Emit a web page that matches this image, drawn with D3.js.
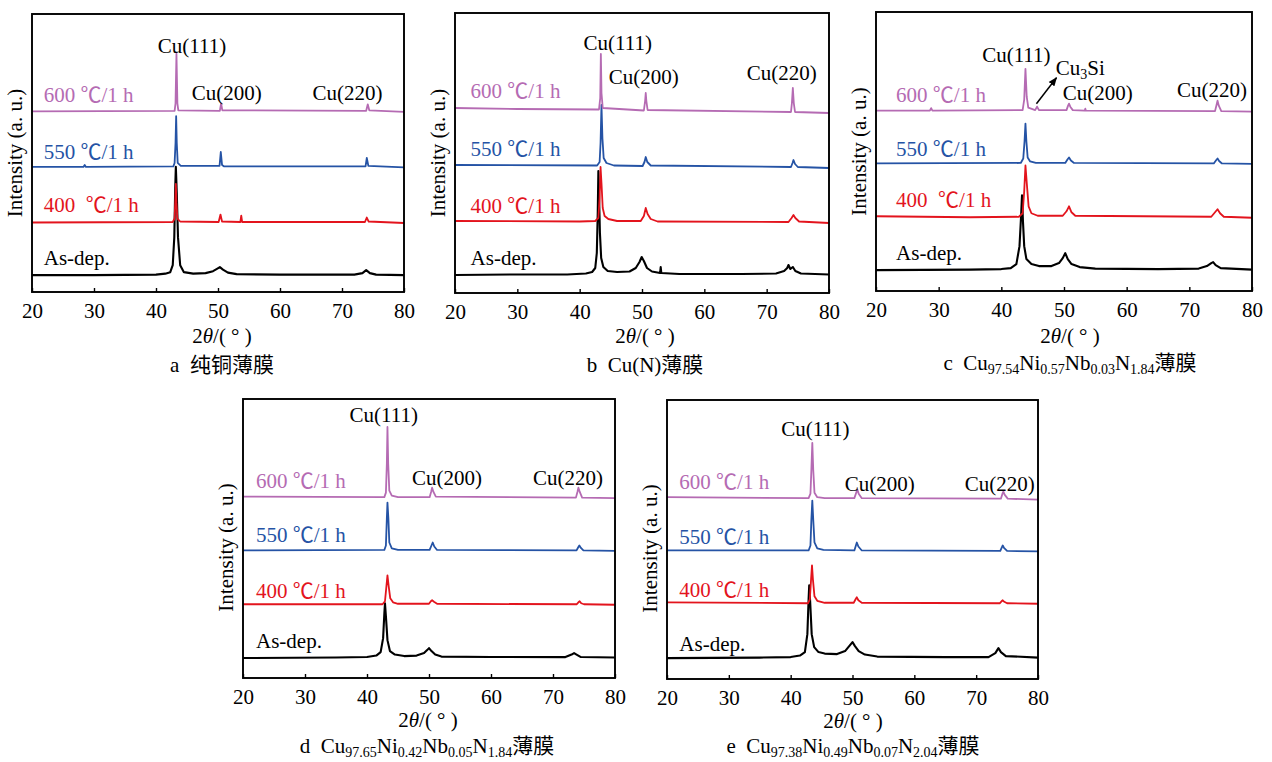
<!DOCTYPE html>
<html>
<head>
<meta charset="utf-8">
<title>XRD - Cu films</title>
<script src="https://d3js.org/d3.v7.min.js"></script>
<style>
body { margin: 0; background: #fff; }
text { font-family: "Liberation Serif", "Noto Sans CJK SC", "DejaVu Serif", serif; fill: #000; }
</style>
</head>
<body>
<div id="chart"></div>
<script>
// x ticks (2theta, deg)
var xTicks = [20, 30, 40, 50, 60, 70, 80];
var peakNames = ["Cu(111)", "Cu(200)", "Cu(220)"];
var colors = ["#000000", "#e3141d", "#2553a5", "#b56bb3"];

// curves, [2theta, intensity a.u. incl. offset], order: As-dep, 400, 550, 600
var aAsDep = [[20,17],[30,17],[40,17.5],[41.5,18.5],[42.3,20],[42.7,27],[42.95,55],[43.1,105],[43.2,126],[43.35,100],[43.55,55],[43.9,27],[44.5,20],[46,18.5],[48,19],[49.2,21],[49.9,23.5],[50.3,25],[50.8,22.5],[51.6,19.5],[53,18],[60,17.5],[72,17.5],[73.3,19],[73.9,22],[74.5,19],[75.5,17.5],[80,17]];
var a400 = [[20,70],[42.7,70.5],[43.0,74],[43.1,90],[43.2,109],[43.3,90],[43.45,74],[43.9,71],[50.1,70.5],[50.4,78],[50.65,71],[53.6,70.5],[53.75,77],[53.9,70.5],[73.7,70.5],[74.0,75],[74.3,71],[80,69.5]];
var a550 = [[20,126],[28.3,126],[28.5,128],[28.7,126],[42.8,126.5],[43.0,130],[43.15,150],[43.25,177],[43.35,150],[43.5,130],[44,127],[50.25,127],[50.45,141],[50.65,128],[51,126.5],[73.8,126.5],[74.0,135],[74.25,127],[80,125.5]];
var a600 = [[20,182],[43.0,182.5],[43.15,190],[43.3,240],[43.45,190],[43.6,183],[50.3,182.5],[50.5,190],[50.7,183],[73.9,182.5],[74.15,189],[74.4,183],[80,181.5]];

var bAsDep = [[20,18],[30,18.5],[38,18.5],[41,19.5],[42,21],[42.5,25],[42.75,40],[42.9,80],[43.0,122],[43.1,100],[43.25,60],[43.45,35],[43.8,26],[44.5,22],[46,21],[48,21.5],[49,25],[49.6,31],[49.95,36],[50.3,32],[50.8,25],[51.6,21.5],[52.9,20],[53.0,26],[53.1,20],[56,19],[66,19],[71.5,19.5],[72.8,22],[73.3,25],[73.5,28],[73.8,24],[74.2,26],[74.6,22],[75.5,19.5],[80,18.5]];
var b400 = [[20,72],[40,71.5],[42.5,72],[43.0,75],[43.2,95],[43.35,126],[43.5,110],[43.7,85],[44,77],[44.6,74],[46,72],[49.8,72],[50.3,77],[50.6,85],[50.9,79],[51.4,74],[52.5,71.5],[73.5,71],[74.0,75],[74.3,78],[74.6,75],[75.2,71.5],[80,70]];
var b550 = [[20,128],[42.8,127.5],[43.2,131],[43.35,150],[43.5,188],[43.65,155],[43.85,135],[44.3,130],[45.5,127.5],[50.1,127],[50.4,131],[50.6,136],[50.85,131],[51.4,127.5],[73.9,126],[74.15,130],[74.3,133],[74.55,129],[75,126],[80,125]];
var b600 = [[20,185],[30,184],[43.1,183.5],[43.3,195],[43.4,239],[43.5,200],[43.7,185],[50.3,182.5],[50.5,192],[50.6,200],[50.7,192],[50.9,183],[73.9,181],[74.05,190],[74.2,205],[74.35,190],[74.55,181],[80,180]];

var cAsDep = [[20,21],[35,21.5],[40,22],[41.5,23],[42.4,27],[42.9,45],[43.15,75],[43.3,96],[43.45,70],[43.65,45],[44,32],[44.8,27],[46,25],[48,25],[49.2,28],[49.8,33],[50.2,38],[50.6,32],[51.2,27],[52.5,24],[55,22.5],[65,22],[71.5,22.5],[72.8,25],[73.5,28],[73.8,29],[74.2,26],[75,23],[80,21.5]];
var c400 = [[20,75],[35,74],[42.8,74.5],[43.4,78],[43.65,100],[43.85,126],[44.1,105],[44.35,85],[44.8,78],[45.8,75.5],[49.8,75.5],[50.4,80],[50.8,85],[51.2,79],[51.8,75.5],[73.5,74.5],[74.1,79],[74.5,82],[74.9,78],[75.5,74.5],[80,73.5]];
var c550 = [[20,128],[43.1,128.5],[43.5,133],[43.7,150],[43.85,168],[44.0,150],[44.2,134],[44.6,130],[45.5,128.5],[50.2,128.5],[50.55,132],[50.8,134],[51.1,131],[51.6,128.5],[73.9,128],[74.3,131.5],[74.5,133],[74.75,130.5],[75.2,128],[80,127.5]];
var c600 = [[20,181],[28.6,181],[28.8,183.5],[29.0,181],[43.4,181.5],[43.65,192],[43.85,223],[44.05,195],[44.3,184],[45.4,181.5],[45.7,185],[46.0,181.5],[50.4,181.5],[50.65,186],[50.8,188],[51.0,185],[51.4,181.5],[53.3,181],[53.4,183],[53.5,181],[74.1,180.5],[74.35,187],[74.5,191],[74.7,186],[75.1,180.5],[80,180]];

var dAsDep = [[20,20],[35,20.5],[40,21],[41.5,22.5],[42.2,26],[42.6,40],[42.8,65],[42.9,75],[43.05,62],[43.3,38],[43.7,27],[44.5,23.5],[46,22],[48,22.5],[49.2,25],[49.7,28],[50.0,30],[50.4,27],[51,23.5],[52,21.5],[60,21],[72,21],[73,23.5],[73.4,25],[73.8,23.5],[74.5,21],[80,20.5]];
var d400 = [[20,74],[42.5,74],[42.9,77],[43.1,90],[43.3,103],[43.5,92],[43.75,80],[44.2,76],[45,74.5],[50.0,74.5],[50.3,77],[50.5,78],[50.8,76.5],[51.3,74.5],[73.8,74],[74.1,76],[74.3,77],[74.55,75],[75,74],[80,73.5]];
var d550 = [[20,128],[42.8,128.5],[43.05,133],[43.2,160],[43.3,176],[43.45,160],[43.6,136],[44,130],[45,128.5],[50.1,128.5],[50.4,133],[50.6,136],[50.85,132],[51.3,128.5],[73.8,128],[74.05,131],[74.25,133],[74.5,130.5],[74.9,128],[80,127.5]];
var d600 = [[20,182],[42.8,181.5],[43.05,186],[43.2,215],[43.3,252],[43.42,215],[43.6,188],[44,183],[45,181.5],[50.1,181.5],[50.35,187],[50.5,191],[50.7,187],[51.1,182],[73.7,181],[73.95,187],[74.1,191],[74.3,187],[74.7,181],[80,180.5]];

var eAsDep = [[20,21],[35,21.5],[40,22],[41.5,23.5],[42.3,27],[42.7,45],[42.9,80],[43.0,94],[43.15,78],[43.4,45],[43.8,32],[44.5,27],[45.5,25.5],[47.5,25],[48.8,28],[49.6,34],[50.0,37],[50.4,33],[51,28],[52,24.5],[54,22.5],[65,22],[72,22],[73.1,26],[73.6,31],[74.0,27],[74.8,23],[80,21.5]];
var e400 = [[20,77],[42.8,76],[43.1,80],[43.3,100],[43.45,114],[43.6,100],[43.85,83],[44.3,78.5],[45.5,76.5],[50.2,76.5],[50.5,80],[50.7,82],[50.95,79],[51.5,76.5],[73.8,76],[74.1,78],[74.3,79],[74.55,77.5],[75,76],[80,75.5]];
var e550 = [[20,129],[42.9,129],[43.2,134],[43.35,160],[43.5,179],[43.65,160],[43.85,137],[44.3,131],[45.3,129.5],[50.3,129],[50.55,134],[50.7,137],[50.95,133],[51.5,129],[73.9,128.5],[74.15,132],[74.3,134],[74.5,131.5],[75,128.5],[80,128]];
var e600 = [[20,182.5],[42.9,181.5],[43.2,186],[43.35,210],[43.5,237],[43.65,210],[43.85,187],[44.3,182.5],[45.5,181.5],[50.3,181.5],[50.6,187],[50.8,190],[51.0,186],[51.5,181.5],[74.0,181],[74.25,186],[74.4,188],[74.6,185],[75.1,181],[80,180]];

// sample labels
var labelsSingle = ["As-dep.", "400 ℃/1 h", "550 ℃/1 h", "600 ℃/1 h"];
var labelsWide = ["As-dep.", "400  ℃/1 h", "550 ℃/1 h", "600 ℃/1 h"];

// captions: [text, isSubscript]
var capA = [["a  纯铜薄膜", 0]];
var capB = [["b  Cu(N)薄膜", 0]];
var capC = [["c  Cu", 0], ["97.54", 1], ["Ni", 0], ["0.57", 1], ["Nb", 0], ["0.03", 1], ["N", 0], ["1.84", 1], ["薄膜", 0]];
var capD = [["d  Cu", 0], ["97.65", 1], ["Ni", 0], ["0.42", 1], ["Nb", 0], ["0.05", 1], ["N", 0], ["1.84", 1], ["薄膜", 0]];
var capE = [["e  Cu", 0], ["97.38", 1], ["Ni", 0], ["0.49", 1], ["Nb", 0], ["0.07", 1], ["N", 0], ["2.04", 1], ["薄膜", 0]];

// layout
var panels = [
	{left: 32, top: 14, w: 372, h: 278, curves: [aAsDep, a400, a550, a600], labels: labelsWide, cap: capA,
	 sampleX: 21.9, sampleY: [27, 81, 134, 191], peakPos: [[45.8, 241], [51.4, 193], [70.9, 193]],
	 ylabDy: 0, titleX: 222, titleY: 343, capX: 222, capY: 372},
	{left: 455, top: 13, w: 374, h: 280, curves: [bAsDep, b400, b550, b600], labels: labelsSingle, cap: capB,
	 sampleX: 22.5, sampleY: [28, 80, 137, 195], peakPos: [[46.1, 243], [50.3, 209], [72.4, 213]],
	 ylabDy: 0, titleX: 645, titleY: 343, capX: 645, capY: 372},
	{left: 876, top: 12, w: 376, h: 279, curves: [cAsDep, c400, c550, c600], labels: labelsWide, cap: capC,
	 sampleX: 23.2, sampleY: [31, 84, 135, 190], peakPos: [[42.4, 230], [55.4, 192], [73.6, 195]],
	 ylabDy: 0, titleX: 1070, titleY: 343, capX: 1070, capY: 370, cu3si: true},
	{left: 243, top: 399, w: 372, h: 279, curves: [dAsDep, d400, d550, d600], labels: labelsSingle, cap: capD,
	 sampleX: 22.1, sampleY: [30, 80, 136, 191], peakPos: [[42.7, 257], [52.9, 194], [72.4, 194]],
	 ylabDy: 9, titleX: 428, titleY: 727, capX: 427, capY: 753},
	{left: 667, top: 400, w: 371, h: 279, curves: [eAsDep, e400, e550, e600], labels: labelsSingle, cap: capE,
	 sampleX: 22.0, sampleY: [28, 82, 135, 191], peakPos: [[44.0, 244], [54.4, 189], [73.8, 189]],
	 ylabDy: 9, titleX: 853, titleY: 728, capX: 853, capY: 753}
];

var svg = d3.select("#chart").append("svg").attr("width", 1272).attr("height", 762);

svg.append("defs").append("marker")
	.attr("id", "arrow").attr("viewBox", "0 0 10 10").attr("refX", 9).attr("refY", 5)
	.attr("markerWidth", 9).attr("markerHeight", 9).attr("markerUnits", "userSpaceOnUse")
	.attr("orient", "auto")
	.append("path").attr("d", "M0,1 L10,5 L0,9 z").attr("fill", "#000");

panels.forEach(function(p) {
	var g = svg.append("g").attr("transform", "translate(" + p.left + "," + p.top + ")");
	var x = d3.scaleLinear().domain([20, 80]).range([0, p.w]);
	var y = d3.scaleLinear().domain([0, 280]).range([p.h, 0]);
	var line = d3.line().x(function(d) { return x(d[0]); }).y(function(d) { return y(d[1]); });

	g.selectAll(".curve").data(p.curves).enter().append("path")
		.attr("class", "curve")
		.attr("d", line)
		.attr("fill", "none")
		.attr("stroke", function(d, i) { return colors[i]; })
		.attr("stroke-width", function(d, i) { return i == 0 ? 2.1 : 1.8; })
		.attr("stroke-linejoin", "round");

	// frame
	g.append("rect").attr("width", p.w).attr("height", p.h)
		.attr("fill", "none").attr("stroke", "#000").attr("stroke-width", 1.9);

	var ax = g.append("g").attr("transform", "translate(0," + p.h + ")")
		.call(d3.axisBottom(x).tickValues(xTicks).tickSizeInner(-4).tickSizeOuter(0).tickPadding(11));
	ax.attr("font-family", null);
	ax.select(".domain").remove();
	ax.selectAll("line").attr("stroke-width", 1.4);
	ax.selectAll("text").attr("font-size", 21);

	// y title
	g.append("text")
		.attr("transform", "translate(-10," + (p.h / 2 + p.ylabDy) + ") rotate(-90)")
		.attr("text-anchor", "middle").attr("font-size", 21)
		.text("Intensity (a. u.)");

	// x title
	var t = svg.append("text").attr("x", p.titleX).attr("y", p.titleY)
		.attr("text-anchor", "middle").attr("font-size", 21);
	t.append("tspan").text("2");
	t.append("tspan").attr("font-style", "italic").text("θ");
	t.append("tspan").text("/( ° )");

	// sample labels
	g.selectAll(".slab").data(p.labels).enter().append("text")
		.attr("class", "slab")
		.attr("x", x(p.sampleX))
		.attr("y", function(d, i) { return y(p.sampleY[i]); })
		.attr("font-size", 21)
		.style("white-space", "pre")
		.style("fill", function(d, i) { return colors[i]; })
		.text(function(d) { return d; });

	// peak labels
	g.selectAll(".plab").data(peakNames).enter().append("text")
		.attr("class", "plab")
		.attr("x", function(d, i) { return x(p.peakPos[i][0]); })
		.attr("y", function(d, i) { return y(p.peakPos[i][1]); })
		.attr("text-anchor", "middle").attr("font-size", 21)
		.text(function(d) { return d; });

	if (p.cu3si) {
		var ct = g.append("text").attr("x", x(48.7)).attr("y", y(217)).attr("font-size", 21);
		ct.append("tspan").text("Cu");
		ct.append("tspan").attr("font-size", 14).attr("dy", 4).text("3");
		ct.append("tspan").attr("dy", -4).text("Si");
		g.append("line")
			.attr("x1", x(45.6)).attr("y1", y(188))
			.attr("x2", x(48.8)).attr("y2", y(214))
			.attr("stroke", "#000").attr("stroke-width", 1.5)
			.attr("marker-end", "url(#arrow)");
	}

	// caption
	var c = svg.append("text").attr("x", p.capX).attr("y", p.capY)
		.attr("text-anchor", "middle").attr("font-size", 21).style("white-space", "pre");
	var shift = 0;
	p.cap.forEach(function(s) {
		var ts = c.append("tspan").text(s[0]);
		if (s[1] && shift == 0) { ts.attr("font-size", 14).attr("dy", 4); shift = 1; }
		else if (s[1]) { ts.attr("font-size", 14); }
		else if (shift == 1) { ts.attr("dy", -4); shift = 0; }
	});
});
</script>
</body>
</html>
